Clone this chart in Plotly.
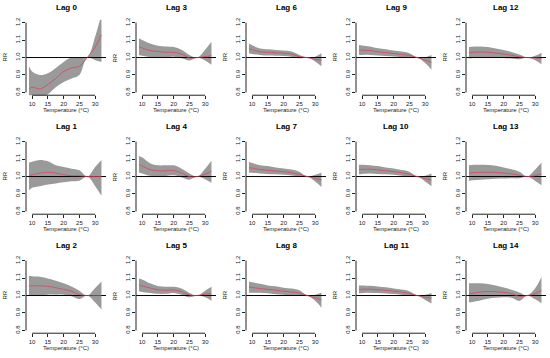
import plotly.graph_objects as go

# ---------------- data ----------------
temps = [9, 10, 12.5, 15, 17.5, 20, 22.5, 25, 27.5, 30, 32]

lag_names = ["Lag %d" % i for i in range(15)]

rr = [
    [0.82, 0.83, 0.82, 0.845, 0.88, 0.92, 0.94, 0.95, 1.0, 1.06, 1.13],     # lag 0
    [1.005, 1.01, 1.02, 1.025, 1.02, 1.01, 1.005, 1.005, 1.0, 1.0, 1.0],    # lag 1
    [1.055, 1.055, 1.056, 1.053, 1.045, 1.035, 1.025, 1.005, 1.0, 1.0, 1.0],  # lag 2
    [1.06, 1.055, 1.04, 1.035, 1.03, 1.03, 1.02, 0.998, 1.0, 1.005, 1.01],  # lag 3
    [1.07, 1.06, 1.04, 1.033, 1.033, 1.035, 1.02, 1.0, 1.0, 1.013, 1.03],   # lag 4
    [1.06, 1.055, 1.043, 1.033, 1.03, 1.032, 1.022, 1.003, 1.0, 1.008, 1.01],  # lag 5
    [1.05, 1.045, 1.033, 1.03, 1.027, 1.025, 1.02, 1.005, 1.0, 0.99, 0.985],   # lag 6
    [1.05, 1.048, 1.04, 1.036, 1.032, 1.028, 1.022, 1.012, 1.0, 0.99, 0.98],   # lag 7
    [1.048, 1.046, 1.04, 1.035, 1.03, 1.025, 1.02, 1.014, 1.0, 0.987, 0.975],  # lag 8
    [1.043, 1.042, 1.04, 1.033, 1.028, 1.023, 1.018, 1.012, 1.0, 0.985, 0.973],  # lag 9
    [1.04, 1.041, 1.042, 1.038, 1.033, 1.028, 1.022, 1.013, 1.0, 0.988, 0.98],   # lag 10
    [1.035, 1.036, 1.036, 1.033, 1.03, 1.025, 1.02, 1.012, 1.0, 0.99, 0.985],    # lag 11
    [1.028, 1.03, 1.032, 1.03, 1.026, 1.02, 1.013, 1.004, 1.0, 0.998, 0.995],    # lag 12
    [1.02, 1.022, 1.024, 1.025, 1.024, 1.02, 1.015, 1.008, 1.0, 1.005, 1.015],   # lag 13
    [1.01, 1.013, 1.02, 1.023, 1.022, 1.018, 1.01, 0.995, 1.0, 1.01, 1.03],      # lag 14
]

upper = [
    [0.95, 0.92, 0.90, 0.91, 0.94, 0.975, 1.0, 1.0, 1.0, 1.12, 1.25],
    [1.08, 1.085, 1.095, 1.087, 1.064, 1.055, 1.045, 1.036, 1.0, 1.055, 1.095],
    [1.113, 1.11, 1.107, 1.098, 1.085, 1.07, 1.052, 1.028, 1.0, 1.043, 1.08],
    [1.11, 1.10, 1.08, 1.067, 1.063, 1.06, 1.045, 1.015, 1.0, 1.045, 1.09],
    [1.118, 1.11, 1.076, 1.064, 1.064, 1.064, 1.045, 1.018, 1.0, 1.045, 1.09],
    [1.097, 1.092, 1.07, 1.055, 1.05, 1.05, 1.04, 1.015, 1.0, 1.028, 1.05],
    [1.08, 1.07, 1.052, 1.047, 1.043, 1.04, 1.034, 1.015, 1.0, 1.005, 1.024],
    [1.083, 1.078, 1.065, 1.06, 1.052, 1.046, 1.04, 1.028, 1.0, 1.01, 1.022],
    [1.08, 1.076, 1.067, 1.058, 1.053, 1.045, 1.04, 1.03, 1.0, 1.004, 1.018],
    [1.072, 1.069, 1.063, 1.053, 1.048, 1.04, 1.034, 1.025, 1.0, 1.002, 1.015],
    [1.068, 1.068, 1.065, 1.06, 1.052, 1.046, 1.037, 1.028, 1.0, 1.004, 1.018],
    [1.058, 1.058, 1.056, 1.052, 1.047, 1.041, 1.034, 1.025, 1.0, 1.004, 1.015],
    [1.06, 1.062, 1.063, 1.06, 1.052, 1.043, 1.032, 1.018, 1.0, 1.01, 1.028],
    [1.065, 1.066, 1.067, 1.066, 1.062, 1.052, 1.042, 1.028, 1.0, 1.04, 1.08],
    [1.07, 1.07, 1.07, 1.066, 1.057, 1.046, 1.033, 1.018, 1.0, 1.042, 1.106],
]

lower = [
    [0.70, 0.75, 0.77, 0.79, 0.83, 0.86, 0.88, 0.90, 1.0, 0.985, 0.975],
    [0.92, 0.936, 0.945, 0.955, 0.96, 0.967, 0.973, 0.976, 1.0, 0.945, 0.89],
    [1.0, 0.998, 1.002, 1.005, 1.005, 1.005, 0.996, 0.98, 1.0, 0.96, 0.92],
    [1.015, 1.01, 1.002, 1.0, 1.0, 1.005, 0.996, 0.983, 1.0, 0.983, 0.958],
    [1.022, 1.018, 1.004, 1.0, 1.003, 1.007, 0.996, 0.982, 1.0, 0.985, 0.964],
    [1.024, 1.02, 1.015, 1.01, 1.01, 1.015, 1.005, 0.99, 1.0, 0.99, 0.97],
    [1.024, 1.02, 1.015, 1.011, 1.01, 1.009, 1.005, 0.996, 1.0, 0.978, 0.95],
    [1.022, 1.022, 1.018, 1.015, 1.013, 1.01, 1.006, 1.0, 1.0, 0.972, 0.94],
    [1.016, 1.016, 1.016, 1.013, 1.007, 1.004, 1.0, 1.0, 1.0, 0.97, 0.93],
    [1.015, 1.015, 1.015, 1.011, 1.009, 1.006, 1.002, 1.0, 1.0, 0.968, 0.93],
    [1.013, 1.015, 1.018, 1.015, 1.013, 1.01, 1.005, 1.0, 1.0, 0.972, 0.945],
    [1.012, 1.014, 1.016, 1.014, 1.012, 1.009, 1.005, 1.0, 1.0, 0.975, 0.955],
    [0.996, 0.998, 1.0, 1.0, 1.0, 0.998, 0.995, 0.99, 1.0, 0.985, 0.962],
    [0.975, 0.978, 0.982, 0.985, 0.987, 0.988, 0.99, 0.99, 1.0, 0.975, 0.95],
    [0.96, 0.963, 0.972, 0.982, 0.987, 0.99, 0.987, 0.969, 1.0, 0.978, 0.956],
]

xticks = [10, 15, 20, 25, 30]
yticks = [0.8, 0.9, 1.0, 1.1, 1.2]
ytick_text = ["0.8", "0.9", "1.0", "1.1", "1.2"]
x_range = [8.06, 33.44]
y_range = [0.784, 1.216]
ref_rr = 1.0

# ---------------- layout geometry ----------------
W, H = 550, 358
FONT = "Liberation Sans, Arial, sans-serif"
BAND = "#9a9a9a"
RED = "#d9455f"

fig = go.Figure()
layout = dict(
    width=W, height=H, margin=dict(l=0, r=0, t=0, b=0),
    paper_bgcolor="white", plot_bgcolor="white", showlegend=False,
    font=dict(family=FONT, size=6, color="#222"),
)
annotations = []
shapes = []

for i in range(15):
    col, row = i // 3, i % 3
    left = 26 + 110 * col
    pw = 80
    top = 17 + 120 * row
    ph = 76
    k = "" if i == 0 else str(i + 1)
    xa, ya = "x" + k, "y" + k
    layout["xaxis" + k] = dict(
        domain=[left / W, (left + pw) / W], range=x_range, anchor=ya,
        tickvals=xticks, ticks="outside", ticklen=3, tickcolor="#222",
        showgrid=False, zeroline=False, showline=False,
        tickfont=dict(size=6, family=FONT, color="#222"),
    )
    layout["yaxis" + k] = dict(
        domain=[1 - (top + ph) / H, 1 - top / H], range=y_range, anchor=xa,
        tickvals=yticks, ticktext=ytick_text, ticks="outside", ticklen=3,
        tickcolor="#222", tickangle=-90,
        showgrid=False, zeroline=False, showline=False,
        tickfont=dict(size=6, family=FONT, color="#222"),
    )
    # band
    fig.add_trace(go.Scatter(x=temps, y=upper[i], mode="lines",
                             line=dict(width=0, shape="spline", color=BAND),
                             xaxis=xa, yaxis=ya, hoverinfo="skip"))
    fig.add_trace(go.Scatter(x=temps, y=lower[i], mode="lines", fill="tonexty",
                             fillcolor=BAND,
                             line=dict(width=0, shape="spline", color=BAND),
                             xaxis=xa, yaxis=ya, hoverinfo="skip"))
    # reference line
    fig.add_trace(go.Scatter(x=x_range, y=[ref_rr, ref_rr], mode="lines",
                             line=dict(width=1, color="black"),
                             xaxis=xa, yaxis=ya, hoverinfo="skip"))
    # estimate
    fig.add_trace(go.Scatter(x=temps, y=rr[i], mode="lines",
                             line=dict(width=0.8, shape="spline", color=RED),
                             xaxis=xa, yaxis=ya))
    # R-style axis lines (first tick to last tick)
    shapes.append(dict(type="line", xref=xa, yref=ya + " domain",
                       x0=xticks[0], x1=xticks[-1], y0=0, y1=0,
                       line=dict(color="#222", width=1)))
    shapes.append(dict(type="line", xref=xa + " domain", yref=ya,
                       x0=0, x1=0, y0=yticks[0], y1=yticks[-1],
                       line=dict(color="#222", width=1)))
    # title
    annotations.append(dict(text="<b>%s</b>" % lag_names[i], xref="paper", yref="paper",
                            x=(left + pw / 2) / W, y=1 - (top - 12) / H,
                            xanchor="center", yanchor="middle", showarrow=False,
                            font=dict(size=8, family=FONT, color="black")))
    # x label
    annotations.append(dict(text="Temperature (°C)", xref="paper", yref="paper",
                            x=(left + pw / 2) / W, y=1 - (top + ph + 15) / H,
                            xanchor="center", yanchor="middle", showarrow=False,
                            font=dict(size=6, family=FONT, color="#222")))
    # y label
    annotations.append(dict(text="RR", xref="paper", yref="paper",
                            x=(left - 21) / W, y=1 - (top + ph / 2) / H,
                            xanchor="center", yanchor="middle", showarrow=False,
                            textangle=-90,
                            font=dict(size=6, family=FONT, color="#222")))

layout["annotations"] = annotations
layout["shapes"] = shapes
fig.update_layout(**layout)
fig.write_html(
    "out.html",
    config={"displayModeBar": False},
    post_script="document.body.style.margin='0';document.body.style.padding='0';",
)
